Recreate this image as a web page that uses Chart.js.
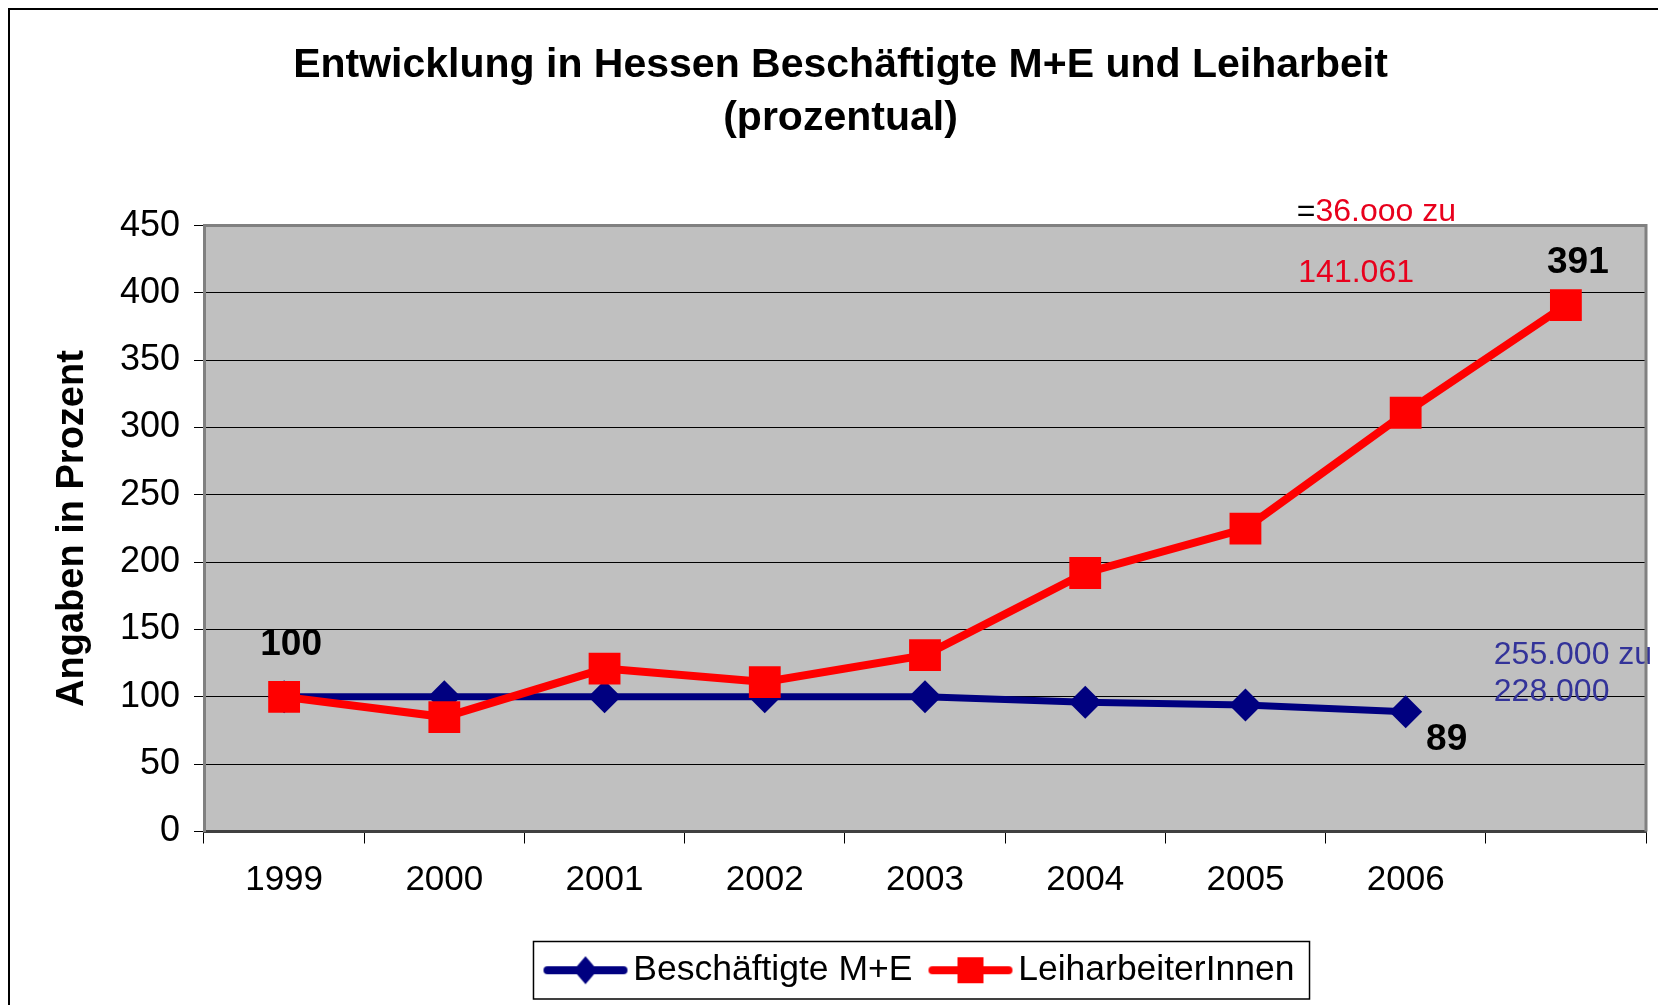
<!DOCTYPE html>
<html>
<head>
<meta charset="utf-8">
<script src="https://cdn.jsdelivr.net/npm/chart.js@4.4.0/dist/chart.umd.min.js"></script>
<style>
  html, body { margin: 0; padding: 0; background: #fff; }
</style>
</head>
<body>
<canvas id="chart" width="1658" height="1005"></canvas>
<script>
// Daten (Index 1999 = 100)
const jahre = ['1999', '2000', '2001', '2002', '2003', '2004', '2005', '2006', ''];
const beschaeftigte = [100, 100, 100, 100, 100, 96, 94, 89, null];
const leiharbeit = [100, 85, 121, 111, 131, 192, 225, 311, 391];

const BLAU = '#000080';
const ROT = '#ff0000';
const TEXTROT = '#e8001c';
const TEXTBLAU = '#333399';
const FONT = 'Liberation Sans, Arial, sans-serif';

// Werte-Beschriftungen an einzelnen Punkten
const punktTexte = [
  { ds: 1, i: 0, text: '100', dx: 7, dy: -52 },
  { ds: 1, i: 8, text: '391', dx: 12, dy: -42 },
  { ds: 0, i: 7, text: '89', dx: 41, dy: 28 },
];

// Textfelder (Position in Achsenwerten)
const notizen = [
  { idx: 6.32, wert: 460, teile: [['=', '#000'], ['36.ooo zu', TEXTROT]] },
  { idx: 6.33, wert: 415, teile: [['141.061', TEXTROT]] },
  { idx: 7.55, wert: 131, teile: [['255.000 zu', TEXTBLAU]] },
  { idx: 7.55, wert: 103.5, teile: [['228.000', TEXTBLAU]] },
];

// Legendensymbol: Linie mit Marker in der Mitte
function legendSymbol(farbe, form) {
  const c = document.createElement('canvas');
  c.width = 100; c.height = 32;
  const g = c.getContext('2d');
  g.strokeStyle = farbe; g.fillStyle = farbe;
  g.lineWidth = 8; g.lineCap = 'round';
  g.beginPath(); g.moveTo(12, 16); g.lineTo(88, 16); g.stroke();
  g.beginPath();
  if (form === 'raute') {
    g.moveTo(50, 2); g.lineTo(62, 16); g.lineTo(50, 30); g.lineTo(38, 16);
  } else {
    g.rect(37, 3, 26, 26);
  }
  g.closePath(); g.fill();
  return c;
}
const symbole = [legendSymbol(BLAU, 'raute'), legendSymbol(ROT, 'quadrat')];

const hintergrund = {
  id: 'hintergrund',
  beforeDraw(chart) {
    const { ctx, chartArea: a } = chart;
    ctx.save();
    ctx.fillStyle = '#fff';
    ctx.fillRect(0, 0, chart.width, chart.height);
    ctx.strokeStyle = '#000';
    ctx.lineWidth = 2;
    ctx.beginPath();
    ctx.moveTo(9, chart.height); ctx.lineTo(9, 9); ctx.lineTo(chart.width, 9);
    ctx.stroke();
    ctx.fillStyle = '#c0c0c0';
    ctx.fillRect(a.left, a.top, a.right - a.left, a.bottom - a.top);
    ctx.restore();
  },
  afterDraw(chart) {
    const { ctx, chartArea: a } = chart;
    ctx.save();
    ctx.strokeStyle = '#808080';
    ctx.lineWidth = 3;
    ctx.beginPath();
    ctx.moveTo(a.left, a.top); ctx.lineTo(a.right, a.top); ctx.lineTo(a.right, a.bottom);
    ctx.stroke();
    // Rahmen um die Legende
    const hb = chart.legend.legendHitBoxes;
    if (hb && hb.length) {
      const l = Math.min(...hb.map(h => h.left)) - 22;
      const r = Math.max(...hb.map(h => h.left + h.width)) + 15;
      const t = Math.min(...hb.map(h => h.top)) - 11;
      const b = Math.max(...hb.map(h => h.top + h.height)) + 11;
      ctx.strokeStyle = '#000';
      ctx.lineWidth = 1.5;
      ctx.strokeRect(l, t, r - l, b - t);
    }
    ctx.restore();
  },
  afterDatasetsDraw(chart) {
    const { ctx } = chart;
    const x = chart.scales.x, y = chart.scales.y;
    ctx.save();
    ctx.textBaseline = 'middle';
    ctx.textAlign = 'center';
    ctx.fillStyle = '#000';
    ctx.font = 'bold 37px ' + FONT;
    punktTexte.forEach(p => {
      const pt = chart.getDatasetMeta(p.ds).data[p.i];
      ctx.fillText(p.text, pt.x + p.dx, pt.y + p.dy);
    });
    ctx.textAlign = 'left';
    ctx.font = '32px ' + FONT;
    notizen.forEach(n => {
      let px = x.getPixelForValue(n.idx);
      const py = y.getPixelForValue(n.wert);
      n.teile.forEach(([t, farbe]) => {
        ctx.fillStyle = farbe;
        ctx.fillText(t, px, py);
        px += ctx.measureText(t).width;
      });
    });
    ctx.restore();
  }
};

new Chart(document.getElementById('chart'), {
  type: 'line',
  data: {
    labels: jahre,
    datasets: [
      {
        label: 'Beschäftigte M+E',
        data: beschaeftigte,
        borderColor: BLAU,
        backgroundColor: BLAU,
        borderWidth: 7,
        pointStyle: 'rectRot',
        pointRadius: 16.5,
        pointHoverRadius: 16.5,
        pointBorderWidth: 0,
        tension: 0,
        clip: false,
        order: 2,
      },
      {
        label: 'LeiharbeiterInnen',
        data: leiharbeit,
        borderColor: ROT,
        backgroundColor: ROT,
        borderWidth: 8,
        pointStyle: 'rect',
        pointRadius: 22.5,
        pointHoverRadius: 22.5,
        pointBorderWidth: 0,
        tension: 0,
        clip: false,
        order: 1,
      },
    ],
  },
  options: {
    responsive: false,
    animation: false,
    devicePixelRatio: 1,
    layout: { autoPadding: false, padding: { left: 35, right: 12, top: 0, bottom: 7 } },
    scales: {
      x: {
        offset: true,
        grid: { offset: true, drawOnChartArea: false, color: '#000', tickLength: 12 },
        border: { color: '#404040', width: 3 },
        ticks: { color: '#000', font: { family: FONT, size: 35 }, padding: 16, maxRotation: 0 },
        afterFit(s) { s.height = 93; s.paddingLeft = 0; s.paddingRight = 0; },
      },
      y: {
        min: 0,
        max: 450,
        ticks: { stepSize: 50, color: '#000', font: { family: FONT, size: 36 }, padding: 14 },
        grid: { color: '#000', tickColor: '#000', tickLength: 10, lineWidth: 1 },
        border: { color: '#808080', width: 3 },
        title: {
          display: true,
          text: 'Angaben in Prozent',
          color: '#000',
          font: { family: FONT, size: 38, weight: 'bold' },
          padding: { top: 15, bottom: 0 },
        },
        afterFit(s) { s.width = 169; },
      },
    },
    plugins: {
      title: {
        display: true,
        text: ['Entwicklung in Hessen Beschäftigte M+E und Leiharbeit', '(prozentual)'],
        color: '#000',
        font: { family: FONT, size: 41, weight: 'bold', lineHeight: 1.3 },
        padding: { top: 39, bottom: 80 },
      },
      legend: {
        position: 'bottom',
        fullSize: false,
        labels: {
          usePointStyle: true,
          pointStyleWidth: 60,
          color: '#000',
          font: { family: FONT, size: 35.5 },
          padding: 28,
          sort: (a, b) => a.datasetIndex - b.datasetIndex,
          generateLabels(chart) {
            const items = Chart.defaults.plugins.legend.labels.generateLabels(chart);
            items.forEach(it => { it.pointStyle = symbole[it.datasetIndex]; });
            return items;
          },
        },
      },
      tooltip: { enabled: false },
    },
  },
  plugins: [hintergrund],
});
</script>
</body>
</html>
